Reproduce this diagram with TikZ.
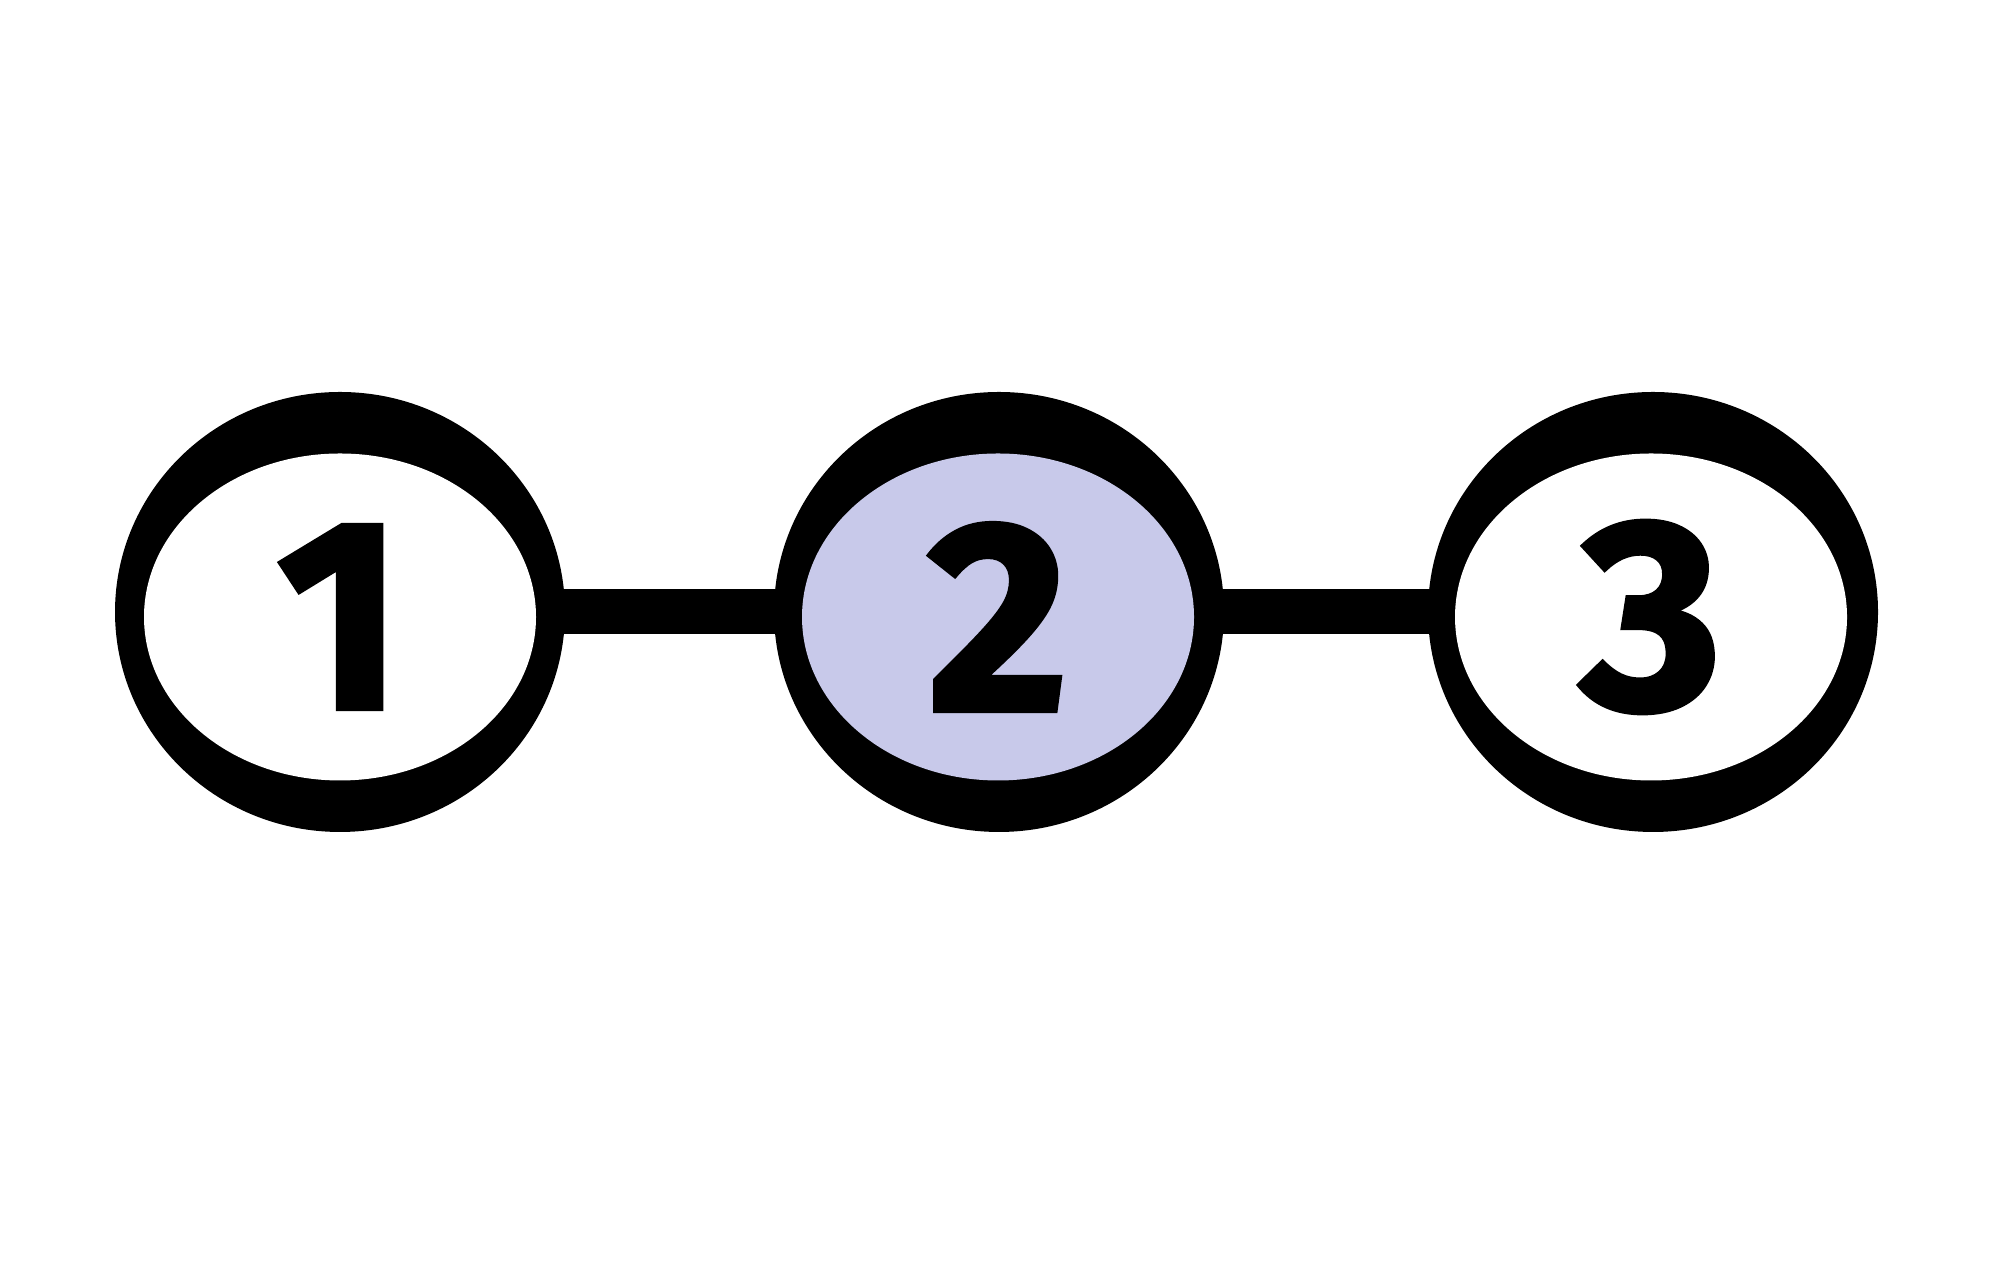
\documentclass[tikz,border=0pt]{standalone}
\usepackage{fontspec}
\newfontfamily\digitfont[FakeBold=2]{Fira Sans}
\usetikzlibrary{shapes.geometric,backgrounds}
\definecolor{lavender}{HTML}{C8C9EA}
\begin{document}
\begin{tikzpicture}[
  ring/.style={ellipse,fill=black,inner sep=0pt,minimum width=4.5cm,minimum height=4.4cm},
  hole/.style={ellipse,fill=white,inner sep=0pt,minimum width=3.92cm,minimum height=3.27cm,
    font=\digitfont\bfseries\fontsize{77}{80}\selectfont},
  link/.style={line width=0.45cm}]
\useasboundingbox (0,0) rectangle (19.93,12.80);
\node[ring] (r1) at (3.40,6.68) {};
\node[ring] (r2) at (9.99,6.68) {};
\node[ring] (r3) at (16.53,6.68) {};
\node[hole] (n1) at (3.40,6.63) {1};
\node[hole,fill=lavender] (n2) at (9.98,6.63) {2};
\node[hole] (n3) at (16.51,6.63) {3};
% bars sit behind the rings
\begin{scope}[on background layer]
\draw[link] (r1.center) -- (r2.center);
\draw[link] (r2.center) -- (r3.center);
\end{scope}
\end{tikzpicture}
\end{document}
